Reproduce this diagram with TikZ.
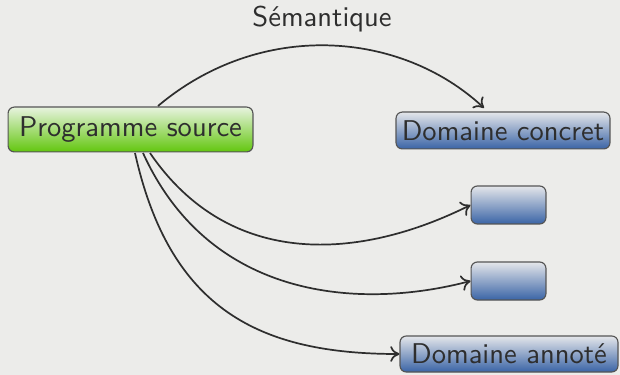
\documentclass[tikz,border=0pt]{standalone}
\usetikzlibrary{arrows.meta}
\definecolor{bg}{HTML}{ECECEA}
\definecolor{txt}{HTML}{2E2E2E}
\definecolor{edge}{HTML}{555555}
\definecolor{gtop}{HTML}{E8F3DF}
\definecolor{gbot}{HTML}{62C60E}
\definecolor{btop}{HTML}{E4E6EA}
\definecolor{bbot}{HTML}{3A64A6}
\tikzset{
  box/.style={draw=edge, line width=0.4pt, rounded corners=2.2pt, inner sep=0pt,
    font=\sffamily\fontsize{10}{12}\selectfont, text=txt},
  greenbox/.style={box, top color=gtop, bottom color=gbot},
  bluebox/.style={box, top color=btop, bottom color=bbot},
  conn/.style={draw=txt, line width=0.6pt, -{To[length=3.2pt,width=5.5pt]}},
}
\begin{document}
\begin{tikzpicture}[x=0.35pt,y=-0.35pt]
\path[fill=bg] (0,0) rectangle (620,375);
\useasboundingbox (0,0) rectangle (620,375);
\node[greenbox, minimum width=85.7pt, minimum height=15.7pt] (src) at (130.5,129.5) {Programme source};
\node[bluebox, minimum width=74.9pt, minimum height=12.9pt] (conc) at (503,130.5) {Domaine concret};
\node[bluebox, minimum width=26.2pt, minimum height=13.3pt] (e1) at (508.5,205) {};
\node[bluebox, minimum width=26.2pt, minimum height=13.3pt] (e2) at (508.5,281) {};
\node[bluebox, minimum width=76.3pt, minimum height=12.6pt] (ann) at (509,354) {Domaine annoté};
\node[font=\sffamily\fontsize{10}{12}\selectfont, text=txt] (sem) at (322,19) {Sémantique};
\coordinate (s0) at (158,106);
\coordinate (t0) at (484,108);
\coordinate (s1) at (150,153);
\coordinate (s2) at (143,153);
\coordinate (s3) at (135,153);
\draw[conn] (s0) .. controls (260,20) and (400,30) .. (t0);
\draw[conn] (s1) .. controls (230,270) and (360,260) .. (e1.west);
\draw[conn] (s2) .. controls (210,300) and (360,310) .. (e2.west);
\draw[conn] (s3) .. controls (170,310) and (260,354) .. (ann.west);
\end{tikzpicture}
\end{document}
